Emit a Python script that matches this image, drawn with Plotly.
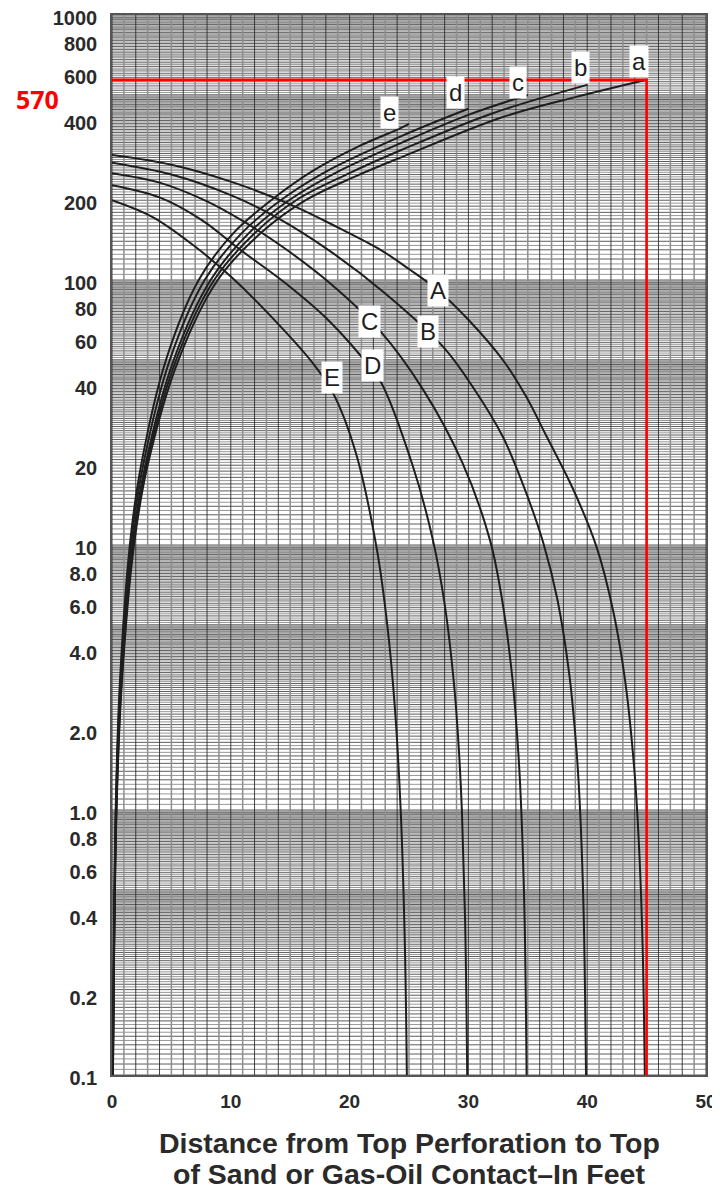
import math
import plotly.graph_objects as go

# ---------------- data ----------------
# Upper-case curves (decreasing): x = distance (ft), y = rate
A_x = [0, 5, 10, 15, 19, 22.6, 25, 27.4, 30, 32.9, 34.8, 36.6, 38.8, 40.8, 42.2, 43.2, 44.0, 44.4, 44.67, 44.85]
A_y = [296, 272, 235, 193, 158, 130, 110, 91.7, 70.8, 49.9, 36.7, 25.6, 16.3, 9.8, 5.6, 3.06, 1.36, 0.67, 0.3, 0.1]
B_x = [0, 5, 10, 14, 18.2, 23, 27.9, 30.4, 32.9, 34.6, 36.3, 37.5, 38.5, 39.1, 39.4, 39.7, 39.9]
B_y = [277, 250, 209, 171, 130, 89, 55.8, 39.3, 25.6, 16.9, 10.2, 6.2, 3.23, 1.68, 1.0, 0.41, 0.1]
C_x = [0, 4, 8, 11, 14.5, 18.5, 22.6, 26.2, 29.5, 31.8, 32.8, 33.7, 34.2, 34.45, 34.72, 34.9]
C_y = [253, 233, 198, 167, 132, 96, 64, 38.5, 20.4, 10.5, 6.36, 3.15, 1.65, 1.0, 0.41, 0.1]
D_x = [0, 4, 7.5, 10.8, 14.5, 18, 20.9, 22.6, 25.3, 27.0, 28.0, 28.8, 29.2, 29.45, 29.72, 29.9]
D_y = [228, 205, 169, 130, 98, 72, 52, 41.5, 20, 10.5, 5.98, 2.95, 1.68, 1.0, 0.39, 0.1]
E_x = [0, 3.5, 7.15, 10, 13, 16.9, 18.6, 20.5, 22.3, 23.2, 23.8, 24.3, 24.65, 24.82]
E_y = [200, 172, 132, 103, 76, 48.6, 37.5, 22.5, 9.6, 4.86, 2.47, 1.0, 0.313, 0.1]

# Lower-case curves (increasing)
a_x = [0.08, 0.38, 0.82, 1.85, 3.0, 5.6, 8.9, 12.5, 16.3, 20.4, 24.4, 32.9, 39, 45]
a_y = [0.1, 1, 3, 10, 20, 50, 100, 150, 200, 245, 291, 412, 490, 570]
b_x = [0.077, 0.365, 0.79, 1.78, 2.9, 5.4, 8.6, 12.0, 15.5, 19.9, 24.4, 32, 40]
b_y = [0.1, 1, 3, 10, 20, 50, 100, 150, 200, 252, 310, 425, 545]
c_x = [0.074, 0.35, 0.76, 1.72, 2.8, 5.2, 8.3, 11.5, 14.9, 18.9, 24.4, 30, 35]
c_y = [0.1, 1, 3, 10, 20, 50, 100, 150, 200, 255, 330, 420, 499]
d_x = [0.07, 0.33, 0.71, 1.6, 2.62, 4.87, 7.8, 10.9, 14.2, 17.9, 24.4, 30]
d_y = [0.1, 1, 3, 10, 20, 50, 100, 150, 200, 255, 350, 443]
e_x = [0.065, 0.31, 0.66, 1.5, 2.45, 4.55, 7.3, 10.2, 13.4, 16.9, 20.8, 24.3, 25]
e_y = [0.1, 1, 3, 10, 20, 50, 100, 150, 200, 258, 320, 374, 388]

curve_names = ["A", "B", "C", "D", "E", "a", "b", "c", "d", "e"]
curve_x = [A_x, B_x, C_x, D_x, E_x, a_x, b_x, c_x, d_x, e_x]
curve_y = [A_y, B_y, C_y, D_y, E_y, a_y, b_y, c_y, d_y, e_y]

# label positions (data coords)
label_x = [27.4, 26.6, 21.7, 21.9, 18.5, 44.4, 39.4, 34.2, 28.9, 23.4]
label_y = [91, 64, 69.5, 47.5, 42.7, 665, 636, 554, 508, 427]

# reference reading
ref_x = 45
ref_y = 570
ref_label = "570"

x_ticks = [0, 10, 20, 30, 40, 50]
y_ticks = [0.1, 0.2, 0.4, 0.6, 0.8, 1, 2, 4, 6, 8, 10, 20, 40, 60, 80, 100, 200, 400, 600, 800, 1000]
y_tick_text = ["0.1", "0.2", "0.4", "0.6", "0.8", "1.0", "2.0", "4.0", "6.0", "8.0", "10",
               "20", "40", "60", "80", "100", "200", "400", "600", "800", "1000"]
x_title_lines = ["Distance from Top Perforation to Top", "of Sand or Gas-Oil Contact–In Feet"]

# ---------------- grid (graph paper) ----------------
h_dark, h_gray = [], []
for base in [0.1, 1, 10, 100]:
    for i in range(0, 80):          # 1..5 step 0.05
        v = round(1 + i * 0.05, 4)
        (h_dark if i % 2 == 0 else h_gray).append(v * base)
    for i in range(0, 50):          # 5..10 step 0.1
        v = round(5 + i * 0.1, 4)
        (h_dark if i % 2 == 0 else h_gray).append(v * base)
h_dark.append(1000)

v_dark = [float(i) for i in range(0, 51, 2)]
v_gray = [float(i) for i in range(1, 51, 2)]


def hlines(vals):
    xs, ys = [], []
    for v in vals:
        xs += [0, 50, None]
        ys += [v, v, None]
    return xs, ys


def vlines(vals):
    xs, ys = [], []
    for v in vals:
        xs += [v, v, None]
        ys += [0.1, 1000, None]
    return xs, ys


fig = go.Figure()

for vals, col, w in [(h_gray, "#8c8c8c", 0.9), (h_dark, "#333333", 0.8)]:
    gx, gy = hlines(vals)
    fig.add_trace(go.Scatter(x=gx, y=gy, mode="lines", line=dict(color=col, width=w),
                             hoverinfo="skip", showlegend=False))
for vals, col, w in [(v_gray, "#8e8e8e", 1.5), (v_dark, "#2e2e2e", 0.9)]:
    gx, gy = vlines(vals)
    fig.add_trace(go.Scatter(x=gx, y=gy, mode="lines", line=dict(color=col, width=w),
                             hoverinfo="skip", showlegend=False))

for name, xs, ys in zip(curve_names, curve_x, curve_y):
    fig.add_trace(go.Scatter(x=xs, y=ys, mode="lines", name=name,
                             line=dict(color="#1e1e1e", width=2, shape="spline", smoothing=1.0),
                             showlegend=False))

# red reference lines
fig.add_trace(go.Scatter(x=[-0.15, ref_x, ref_x], y=[ref_y, ref_y, 0.1], mode="lines",
                         line=dict(color="#ff0000", width=2.6), showlegend=False,
                         cliponaxis=False, hoverinfo="skip"))

for name, lx, ly in zip(curve_names, label_x, label_y):
    fig.add_annotation(x=lx, y=math.log10(ly), xref="x", yref="y", text=name, showarrow=False,
                       font=dict(family="Liberation Sans, Arial", size=24, color="#1e1e1e"),
                       bgcolor="white", borderpad=2)

# "570" in the left margin
fig.add_annotation(x=-0.126, y=0.9208, xref="paper", yref="paper", text=ref_label,
                   showarrow=False, xanchor="center", yanchor="middle",
                   font=dict(family="Open Sans, Arial", size=25, color="#ff0000", weight="bold"))

# two-line x title
for txt, py in zip(x_title_lines, [-0.0645, -0.0935]):
    fig.add_annotation(x=0.5, y=py, xref="paper", yref="paper", text=txt, showarrow=False,
                       xanchor="center", yanchor="middle",
                       font=dict(family="Liberation Sans, Arial", size=28.5, color="#2a2a2a",
                                 weight="bold"))

# The page body adds an 8 px offset, so the figure is sized to leave the plot
# area at the same screen pixels as the reference (x 112..706, y 15..1075).
fig.update_layout(
    width=712, height=1184,
    margin=dict(l=104, r=14, t=7, b=117, autoexpand=False),
    paper_bgcolor="white", plot_bgcolor="white",
    font=dict(family="Liberation Sans, Arial", color="#2a2a2a"),
    xaxis=dict(range=[0, 50], tickvals=x_ticks, ticks="", showgrid=False, zeroline=False,
               showline=True, linecolor="#555555", linewidth=1.5, mirror=True, ticklabelstandoff=8,
               ticklabeloverflow="allow",
               tickfont=dict(size=19, family="Liberation Sans, Arial", color="#2a2a2a", weight="bold")),
    yaxis=dict(type="log", range=[-1, 3], tickvals=y_ticks, ticktext=y_tick_text, ticks="",
               showgrid=False, zeroline=False, showline=True, linecolor="#555555", linewidth=1.5,
               mirror=True, ticklabelstandoff=9, ticklabeloverflow="allow", ticklabelshift=3,
               tickfont=dict(size=20, family="Liberation Sans, Arial", color="#2a2a2a", weight="bold")),
)

fig.write_html("out.html")
